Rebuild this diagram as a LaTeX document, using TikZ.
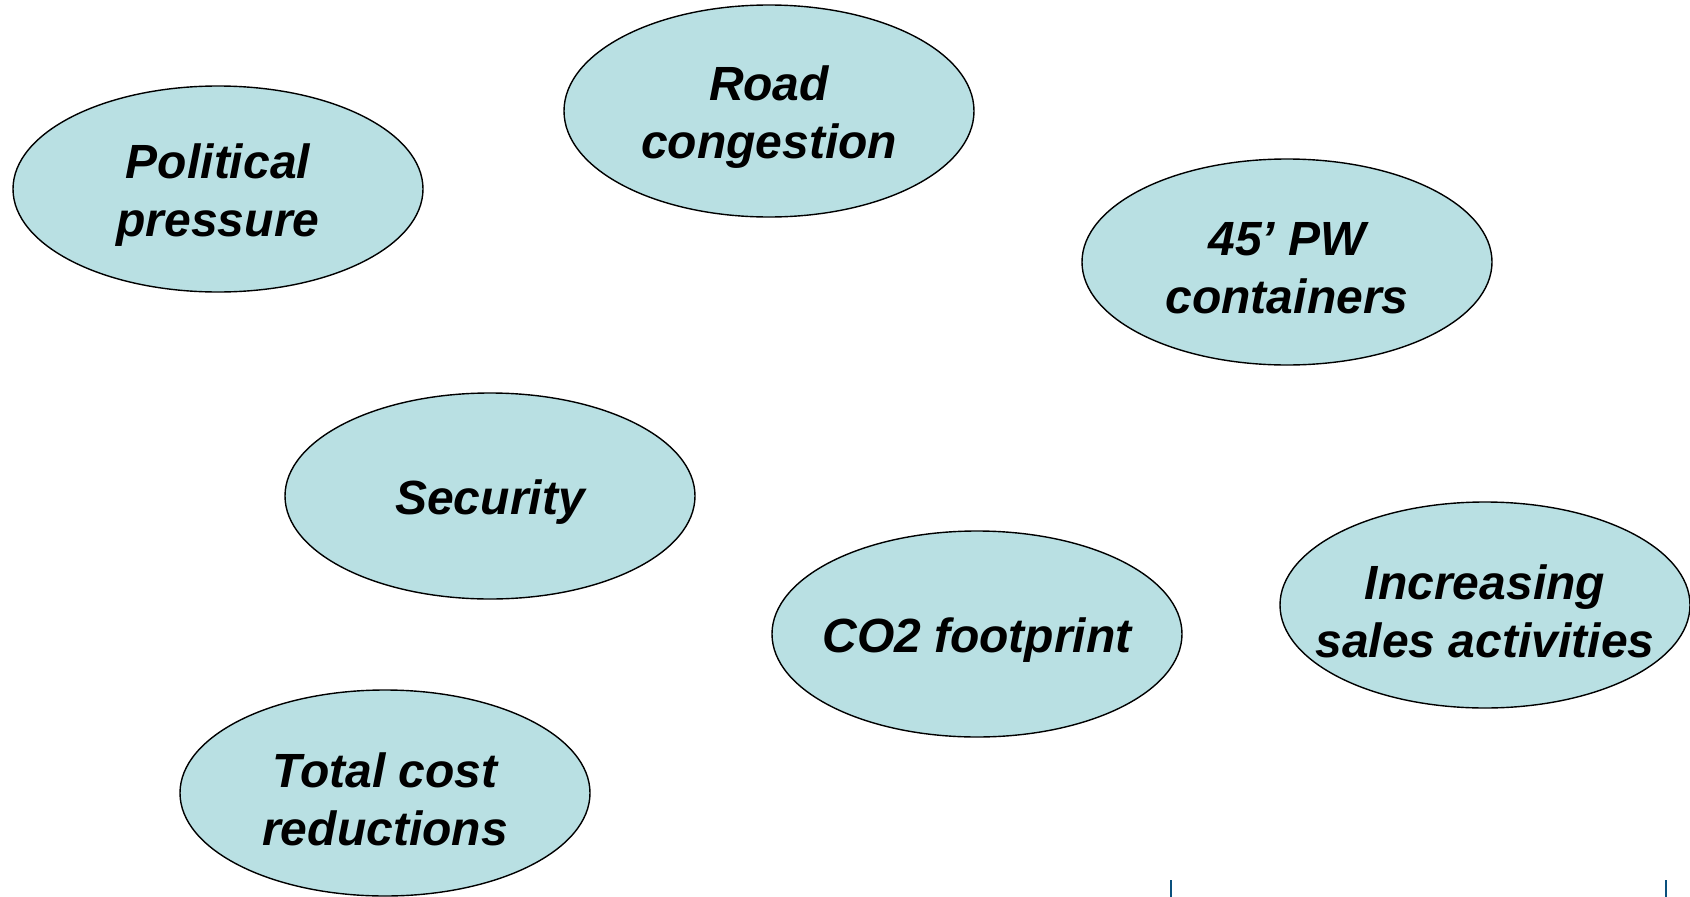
\documentclass[tikz,border=0pt]{standalone}
\usepackage{fontspec}
\setmainfont{Liberation Sans}
\usetikzlibrary{shapes.geometric}
\definecolor{bubble}{RGB}{185,224,227}
\definecolor{tick}{RGB}{10,80,125}
\begin{document}
\begin{tikzpicture}[x=1pt,y=-1pt,
  bub/.style={ellipse,draw=black,line width=1.4pt,fill=bubble,minimum width=410pt,minimum height=206pt,inner sep=0pt},
  txt/.style={align=center,yshift=-6pt,font=\fontsize{48}{58}\selectfont\bfseries\itshape}]
\useasboundingbox (0,0) rectangle (1690,897);
\node[bub,label={[txt]center:Political\\pressure}] (pol) at (218,189) {};
\node[bub,minimum height=212pt,label={[txt]center:Road\\congestion}] (road) at (769,111) {};
\node[bub,label={[txt]center:45’ PW\\containers}] (pw) at (1287,262) {};
\node[bub,label={[txt]center:Security}] (sec) at (490,496) {};
\node[bub,label={[txt]center:CO2 footprint}] (co2) at (977,634) {};
\node[bub,label={[txt]center:Increasing\\sales activities}] (inc) at (1485,605) {};
\node[bub,label={[txt]center:Total cost\\reductions}] (tot) at (385,793) {};
\draw[tick,line width=2.5pt] (1171,880) -- (1171,897);
\draw[tick,line width=2pt] (1666,880) -- (1666,897);
\end{tikzpicture}
\end{document}
